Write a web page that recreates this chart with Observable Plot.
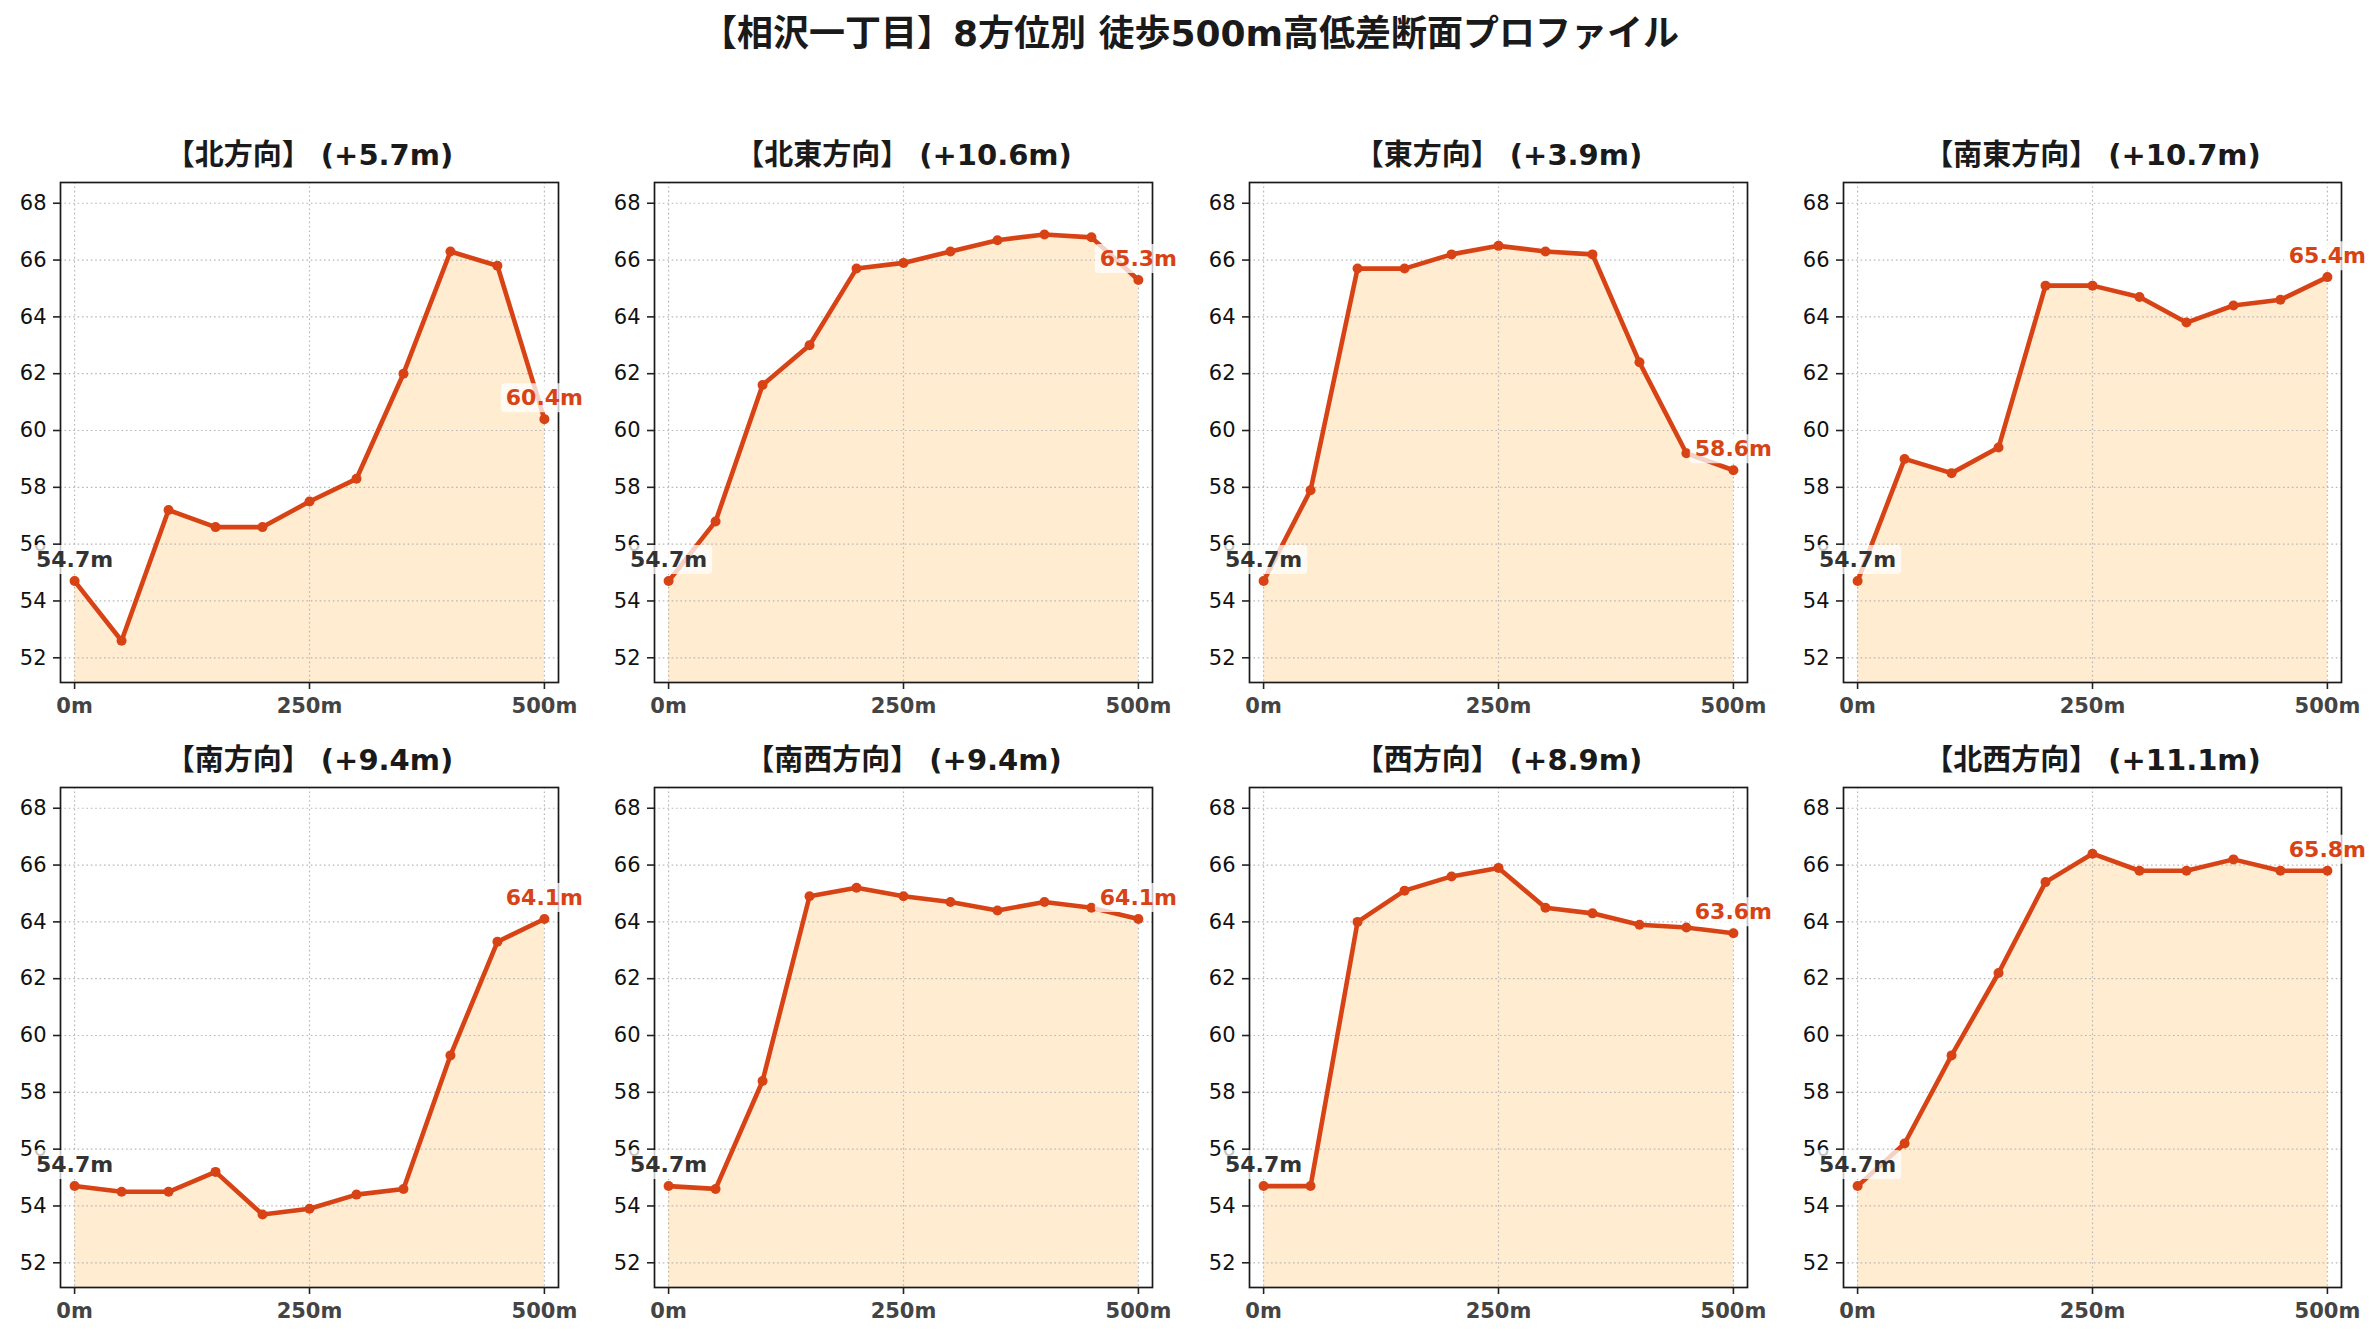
<!DOCTYPE html>
<html><head><meta charset="utf-8">
<script src="https://cdn.jsdelivr.net/npm/d3@7"></script>
<script src="https://cdn.jsdelivr.net/npm/@observablehq/plot@0.6"></script>
<style>
body{margin:0;background:#fff;}
#wrap{position:relative;width:2380px;height:1340px;overflow:hidden;background:#fff;font-family:"DejaVu Sans","Noto Sans CJK JP",sans-serif;}
#title{position:absolute;left:0;top:11px;width:2380px;text-align:center;font-size:36px;font-weight:bold;color:#1a1a1a;line-height:46px;}
.panel{position:absolute;}
.panel svg{max-width:none !important;}
</style></head><body>
<div id="wrap"><div id="title">【相沢一丁目】8方位別 徒歩500m高低差断面プロファイル</div></div>
<script>
// distance from start (m)
const distances = [0, 50, 100, 150, 200, 250, 300, 350, 400, 450, 500];
const directions = ["北", "北東", "東", "南東", "南", "南西", "西", "北西"];
// elevation (m) per direction
const elevN  = [54.7, 52.6, 57.2, 56.6, 56.6, 57.5, 58.3, 62.0, 66.3, 65.8, 60.4];
const elevNE = [54.7, 56.8, 61.6, 63.0, 65.7, 65.9, 66.3, 66.7, 66.9, 66.8, 65.3];
const elevE  = [54.7, 57.9, 65.7, 65.7, 66.2, 66.5, 66.3, 66.2, 62.4, 59.2, 58.6];
const elevSE = [54.7, 59.0, 58.5, 59.4, 65.1, 65.1, 64.7, 63.8, 64.4, 64.6, 65.4];
const elevS  = [54.7, 54.5, 54.5, 55.2, 53.7, 53.9, 54.4, 54.6, 59.3, 63.3, 64.1];
const elevSW = [54.7, 54.6, 58.4, 64.9, 65.2, 64.9, 64.7, 64.4, 64.7, 64.5, 64.1];
const elevW  = [54.7, 54.7, 64.0, 65.1, 65.6, 65.9, 64.5, 64.3, 63.9, 63.8, 63.6];
const elevNW = [54.7, 56.2, 59.3, 62.2, 65.4, 66.4, 65.8, 65.8, 66.2, 65.8, 65.8];
const series = [elevN, elevNE, elevE, elevSE, elevS, elevSW, elevW, elevNW];
const yTicks = [52, 54, 56, 58, 60, 62, 64, 66, 68];
const xTicks = [0, 250, 500];

const yDomain = [51.13, 68.73];
const xDomain = [-15, 515];
const colLeft = [60, 654, 1249, 1843];
const rowTop = [182, 787];
const pw = 498, ph = 500;
const mL = 60, mR = 48, mT = 60, mB = 48;
const lineColor = "#d84315";
const font = '"DejaVu Sans","Noto Sans CJK JP",sans-serif';

const wrap = document.getElementById("wrap");

directions.forEach((dir, i) => {
  const vals = series[i];
  const data = distances.map((d, k) => ({d, e: vals[k]}));
  const start = data[0], end = data[data.length - 1];
  const diff = end.e - start.e;
  const title = `【${dir}方向】 (${diff >= 0 ? "+" : ""}${diff.toFixed(1)}m)`;
  const W = pw + mL + mR, H = ph + mT + mB;
  const svg = Plot.plot({
    width: W,
    height: H,
    marginLeft: mL, marginRight: mR, marginTop: mT, marginBottom: mB,
    style: {background: "none", overflow: "visible", fontFamily: font, fontSize: "21px", maxWidth: "none"},
    x: {domain: xDomain, axis: null},
    y: {domain: yDomain, axis: null},
    marks: [
      Plot.areaY(data, {x: "d", y1: yDomain[0], y2: "e", fill: "#ffe0b2", fillOpacity: 0.6}),
      Plot.gridX(xTicks, {stroke: "#b8b8b8", strokeOpacity: 1, strokeWidth: 1.2, strokeDasharray: "1.6,2.8"}),
      Plot.gridY(yTicks, {stroke: "#b8b8b8", strokeOpacity: 1, strokeWidth: 1.2, strokeDasharray: "1.6,2.8"}),
      Plot.axisY(yTicks, {tickSize: 7, tickPadding: 7, fontSize: 21, fill: "#111", stroke: "#222", strokeWidth: 1.6, label: null}),
      Plot.axisX(xTicks, {tickSize: 7, tickPadding: 9, fontSize: 21, fontWeight: "bold", fill: "#444", stroke: "#222", strokeWidth: 1.6, tickFormat: d => d + "m", label: null}),
      Plot.line(data, {x: "d", y: "e", stroke: lineColor, strokeWidth: 4.6, strokeLinejoin: "round"}),
      Plot.dot(data, {x: "d", y: "e", r: 5, fill: lineColor, stroke: null}),
      Plot.frame({stroke: "#1a1a1a", strokeWidth: 1.7}),
      Plot.text([start], {x: "d", y: "e", text: d => d.e.toFixed(1) + "m", dy: -21, fontSize: 22, fontWeight: "bold", fill: "#333", className: "boxed"}),
      Plot.text([end], {x: "d", y: "e", text: d => d.e.toFixed(1) + "m", dy: -21, fontSize: 22, fontWeight: "bold", fill: lineColor, className: "boxed"}),
      Plot.text([title], {frameAnchor: "top", lineAnchor: "middle", dy: -27, fontSize: 29, fontWeight: "bold", fill: "#1a1a1a"})
    ]
  });
  const col = i % 4, row = Math.floor(i / 4);
  const holder = document.createElement("div");
  holder.className = "panel";
  holder.style.left = (colLeft[col] - mL) + "px";
  holder.style.top = (rowTop[row] - mT) + "px";
  holder.style.width = W + "px";
  holder.style.height = H + "px";
  holder.appendChild(svg);
  wrap.appendChild(holder);
  // white semi-transparent boxes behind value labels
  svg.querySelectorAll(".boxed text").forEach(t => {
    const b = t.getBBox();
    const r = document.createElementNS("http://www.w3.org/2000/svg", "rect");
    r.setAttribute("x", b.x - 5);
    r.setAttribute("y", b.y - 2);
    r.setAttribute("width", b.width + 10);
    r.setAttribute("height", b.height + 4);
    r.setAttribute("rx", 4);
    r.setAttribute("fill", "#ffffff");
    r.setAttribute("fill-opacity", 0.75);
    r.setAttribute("stroke", "none");
    const tr = t.getAttribute("transform");
    if (tr) r.setAttribute("transform", tr);
    t.parentNode.insertBefore(r, t);
  });
});
</script>
</body></html>
